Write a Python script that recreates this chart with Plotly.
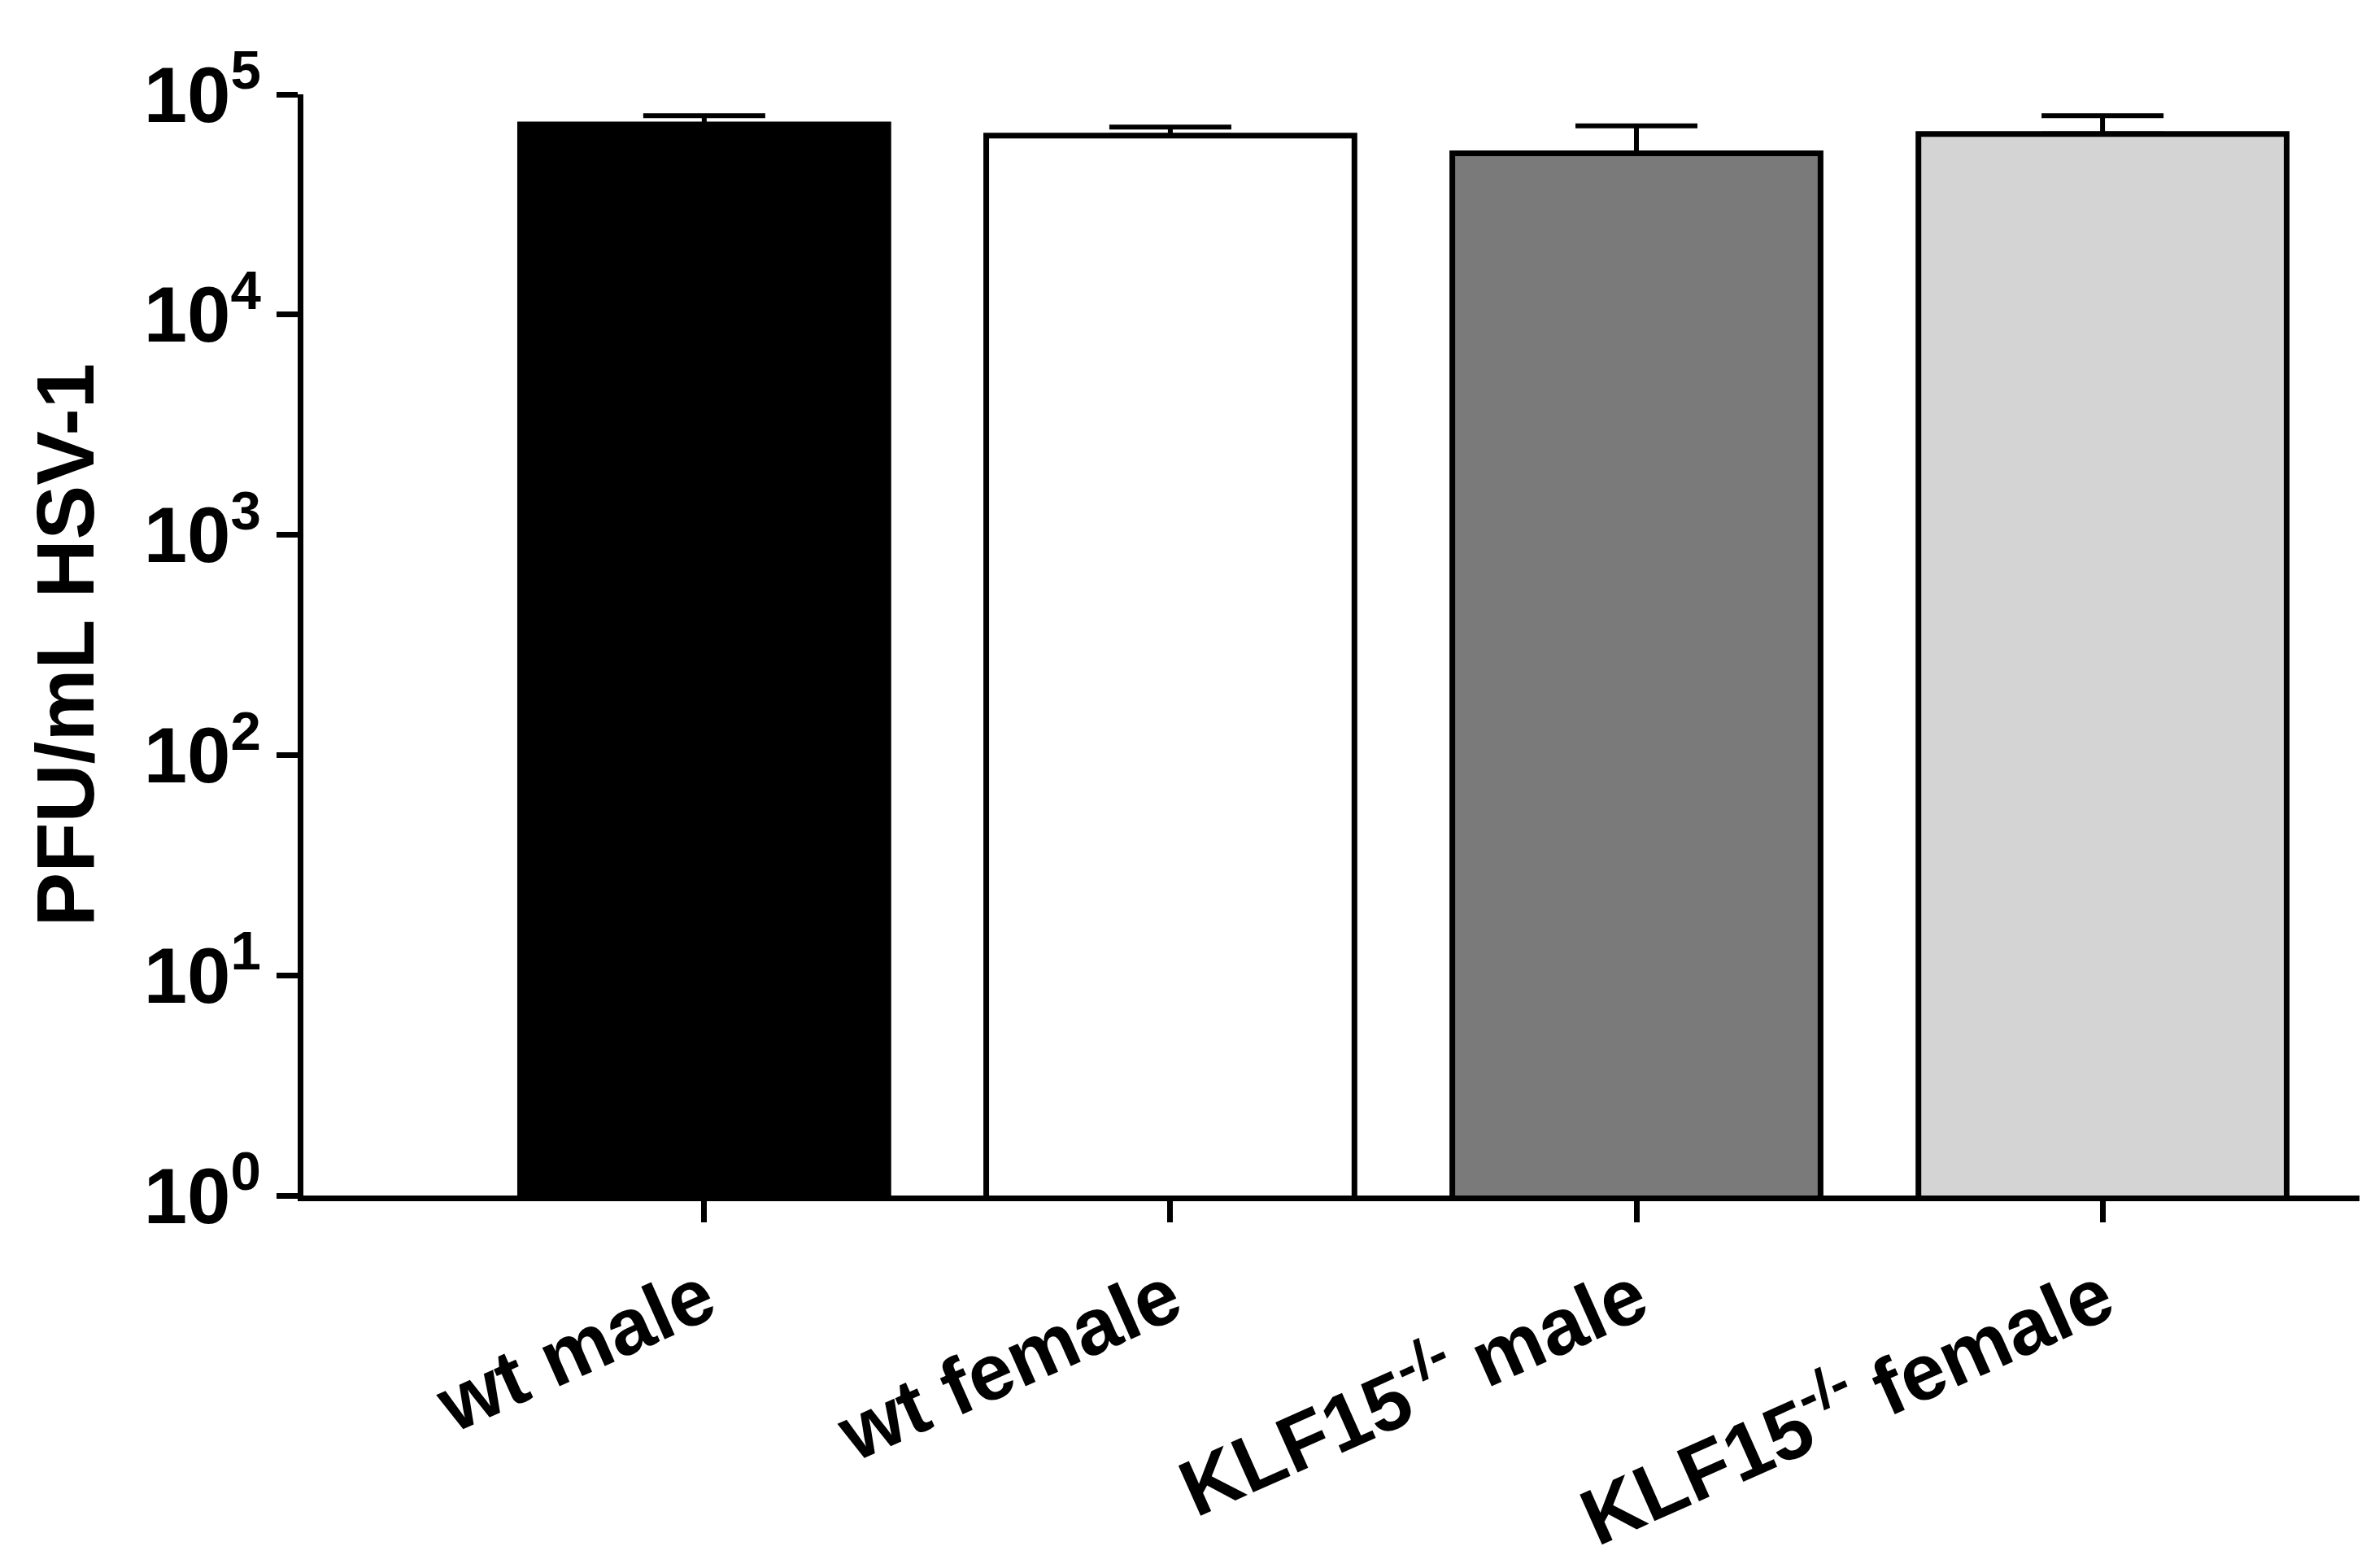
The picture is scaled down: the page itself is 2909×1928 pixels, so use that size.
import plotly.graph_objects as go

categories = ["wt male", "wt female", "KLF15<sup>-/-</sup> male", "KLF15<sup>-/-</sup> female"]
values = [73000, 65000, 54000, 66000]
err_plus = [7000, 6000, 18000, 14000]
colors = ["#000000", "#ffffff", "#7a7a7a", "#d4d4d4"]
ytick_vals = [1, 10, 100, 1000, 10000, 100000]
ytick_text = ["10<sup>0</sup>", "10<sup>1</sup>", "10<sup>2</sup>", "10<sup>3</sup>", "10<sup>4</sup>", "10<sup>5</sup>"]

fig = go.Figure(go.Bar(
    x=list(range(len(categories))), y=values, width=0.79,
    marker=dict(color=colors, line=dict(color="black", width=7)),
    error_y=dict(type="data", array=err_plus, symmetric=False, arrayminus=[0]*4,
                 color="black", thickness=6, width=75),
))
font = dict(family="Liberation Sans, Arial", size=96, color="black")
fig.update_layout(
    width=2909, height=1928, plot_bgcolor="white", paper_bgcolor="white",
    margin=dict(l=365, r=11, t=108, b=466), showlegend=False,
    font=font,
    xaxis=dict(range=[-0.86, 3.56], tickvals=list(range(4)),
               ticktext=["<b>%s</b>" % c for c in categories], tickangle=-24,
               showline=True, linecolor="black", linewidth=7, ticks="outside",
               ticklen=26, tickwidth=7, tickcolor="black", showgrid=False,
               tickfont=dict(size=98)),
    yaxis=dict(type="log", range=[0, 5], tickvals=ytick_vals,
               ticktext=["<b>%s</b>" % t for t in ytick_text],
               showline=True, linecolor="black", linewidth=7, ticks="outside",
               ticklen=26, tickwidth=7, tickcolor="black", showgrid=False,
               zeroline=False, tickfont=dict(size=96),
               title=dict(text="<b>PFU/mL HSV-1</b>", font=dict(size=100), standoff=30)),
)
fig.write_html("out.html")
